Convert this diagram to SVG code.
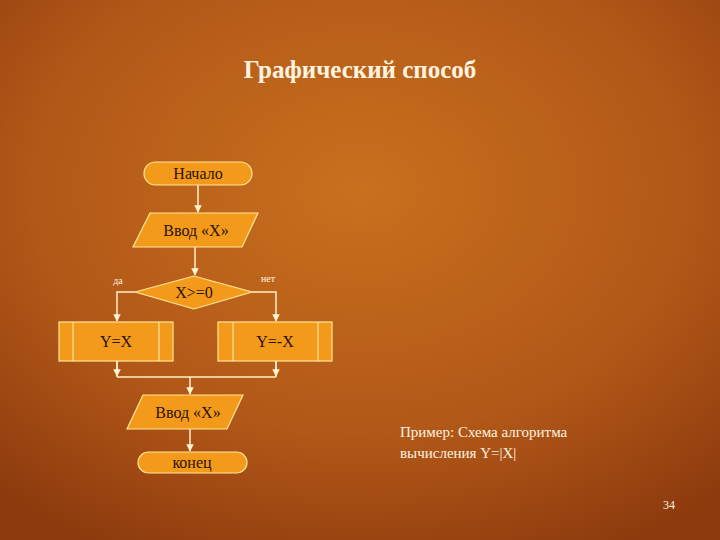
<svg xmlns="http://www.w3.org/2000/svg" width="720" height="540" viewBox="0 0 720 540">
<defs>
<radialGradient id="bg" cx="0.5" cy="0.35" r="0.75">
<stop offset="0" stop-color="#c8701e"/>
<stop offset="0.6" stop-color="#b25818"/>
<stop offset="1" stop-color="#8e3a0e"/>
</radialGradient>
<marker id="ar" viewBox="0 0 10 10" refX="9" refY="5" markerWidth="5" markerHeight="6" orient="auto"><path d="M0,0 L10,5 L0,10 z" fill="#fff4d0"/></marker>
</defs>
<style>
.s{fill:#f49a1a;stroke:#ffe69a;stroke-width:1.2}
.l{fill:none;stroke:#ffe69a;stroke-width:1.2}
.t{font-family:"Liberation Serif",serif;font-size:16px;fill:#2a1200;text-anchor:middle}
.c{stroke:#fff0c8;stroke-width:1.5;fill:none}
.w{font-family:"Liberation Serif",serif;fill:#fff4e0}
</style>
<rect width="720" height="540" fill="url(#bg)"/>
<text class="w" x="360" y="78" font-size="25" font-weight="bold" text-anchor="middle">Графический способ</text>
<g id="connectors">
<path class="c" d="M198,185 V212" marker-end="url(#ar)"/>
<path class="c" d="M195,247 V275" marker-end="url(#ar)"/>
<path class="c" d="M135,292 H117 V321" marker-end="url(#ar)"/>
<path class="c" d="M252,292 H276 V321" marker-end="url(#ar)"/>
<path class="c" d="M117,361 V377 M276,361 V377 M117,377 H276"/>
<path class="c" d="M117,361 V376" marker-end="url(#ar)"/>
<path class="c" d="M276,361 V376" marker-end="url(#ar)"/>
<path class="c" d="M190,377 V394" marker-end="url(#ar)"/>
<path class="c" d="M190,429 V451" marker-end="url(#ar)"/>
</g>
<g id="start"><rect class="s" x="144" y="162" width="108" height="23" rx="11.5"/><text class="t" x="198" y="179">Начало</text></g>
<g id="input1"><polygon class="s" points="150,213 258,213 242,247 133,247"/><text class="t" x="196" y="236">Ввод «X»</text></g>
<g id="cond"><polygon class="s" points="135,292 194,276 252,292 194,309"/><text class="t" x="194" y="298">X&gt;=0</text></g>
<text class="w" x="118" y="284" font-size="10" text-anchor="middle">да</text>
<text class="w" x="268" y="282" font-size="10" text-anchor="middle">нет</text>
<g id="yx"><rect class="s" x="59" y="322" width="114" height="39"/><path class="l" d="M73,322 V361 M159,322 V361"/><text class="t" x="116" y="347">Y=X</text></g>
<g id="ymx"><rect class="s" x="218" y="322" width="114" height="39"/><path class="l" d="M233,322 V361 M318,322 V361"/><text class="t" x="275" y="347">Y=-X</text></g>
<g id="input2"><polygon class="s" points="143,395 243,395 227,429 127,429"/><text class="t" x="188" y="418">Ввод «X»</text></g>
<g id="end"><rect class="s" x="138" y="452" width="109" height="21" rx="10.5"/><text class="t" x="192" y="468">конец</text></g>
<text class="w" x="400" y="437" font-size="15">Пример: Схема алгоритма</text>
<text class="w" x="400" y="458" font-size="15">вычисления Y=|X|</text>
<text class="w" x="669" y="509" font-size="12" text-anchor="middle">34</text>
</svg>
